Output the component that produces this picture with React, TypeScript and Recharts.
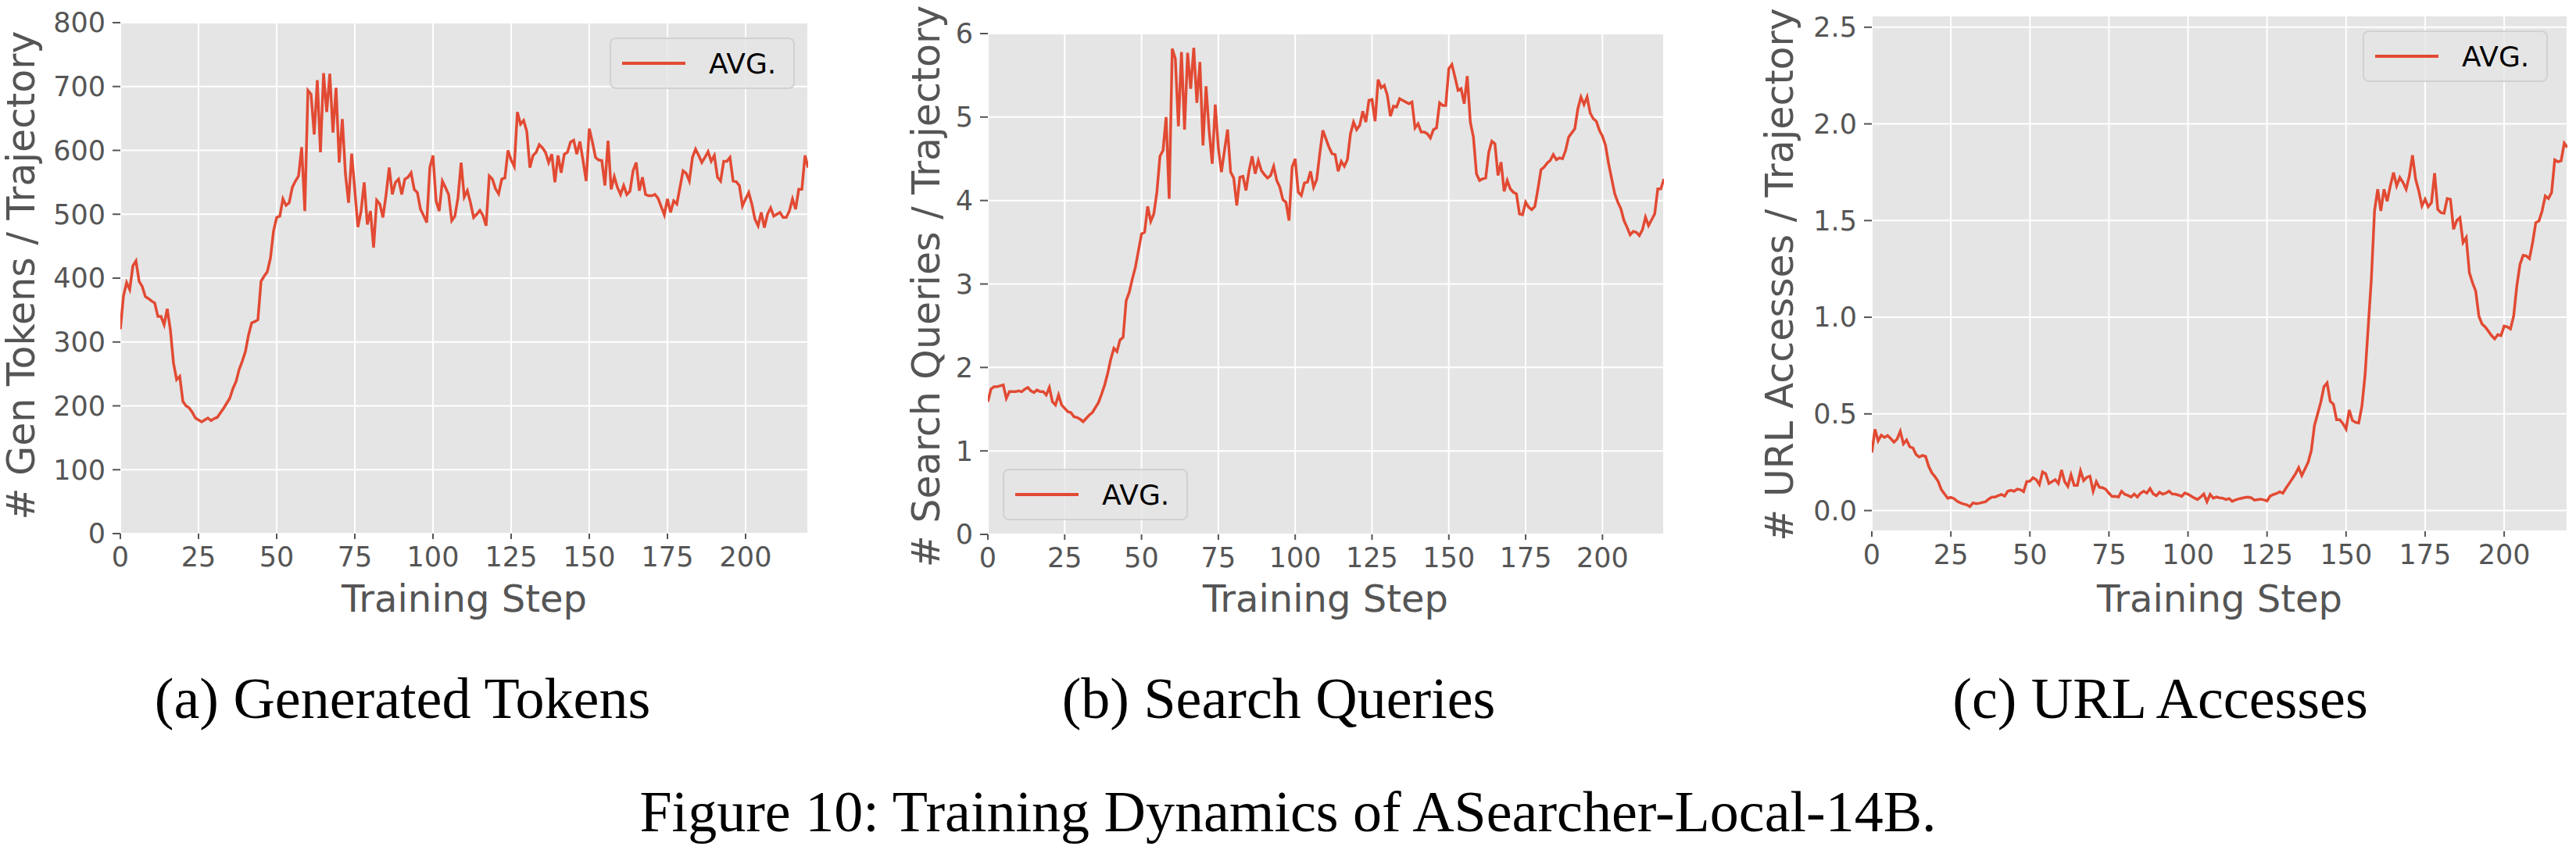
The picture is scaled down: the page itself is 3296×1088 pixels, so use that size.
import React from "react";
import { LineChart, Line, XAxis, YAxis, CartesianGrid, Legend } from "recharts";

// training steps 0..220, one value per step
const genTokens = [
  320, 372, 393, 382, 419, 427, 395, 387, 371, 368,
  364, 361, 340, 340, 327, 352, 319, 267, 241, 246,
  207, 200, 197, 190, 181, 178, 175, 178, 181, 177,
  180, 182, 189, 196, 204, 212, 227, 238, 257, 270,
  285, 311, 330, 332, 335, 395, 403, 410, 431, 474,
  495, 497, 524, 514, 518, 542, 552, 560, 605, 505,
  694, 688, 625, 710, 597, 721, 660, 720, 628, 698,
  581, 649, 563, 518, 595, 537, 480, 505, 550, 484,
  505, 448, 522, 516, 495, 531, 573, 531, 550, 555,
  531, 555, 558, 565, 539, 534, 508, 498, 487, 573,
  592, 521, 505, 552, 542, 531, 490, 497, 526, 581,
  527, 537, 518, 495, 500, 506, 498, 482, 560, 555,
  540, 532, 555, 557, 600, 585, 575, 660, 641, 647,
  630, 573, 592, 597, 609, 604, 597, 581, 594, 550,
  592, 565, 594, 597, 613, 616, 594, 614, 584, 552,
  634, 613, 589, 585, 584, 545, 615, 539, 559, 542,
  531, 545, 531, 536, 568, 581, 537, 558, 531, 529,
  529, 531, 525, 512, 499, 524, 503, 521, 516, 542,
  568, 564, 552, 589, 602, 592, 581, 589, 598, 583,
  592, 558, 552, 583, 583, 589, 552, 551, 545, 513,
  524, 534, 516, 492, 482, 503, 479, 500, 510, 497,
  500, 503, 495, 495, 505, 524, 508, 539, 539, 592,
  573,
];

const searchQueries = [
  1.59, 1.74, 1.77, 1.77, 1.78, 1.79, 1.63, 1.71, 1.71, 1.71,
  1.72, 1.71, 1.74, 1.76, 1.72, 1.7, 1.73, 1.71, 1.71, 1.67,
  1.76, 1.59, 1.55, 1.67, 1.55, 1.51, 1.47, 1.46, 1.41, 1.4,
  1.38, 1.35, 1.39, 1.43, 1.46, 1.52, 1.58, 1.68, 1.79, 1.93,
  2.1, 2.23, 2.19, 2.33, 2.36, 2.8, 2.9, 3.06, 3.2, 3.4,
  3.6, 3.62, 3.93, 3.75, 3.84, 4.1, 4.53, 4.6, 5.0, 4.02,
  5.82, 5.7, 4.89, 5.78, 4.85, 5.77, 5.34, 5.83, 5.17, 5.66,
  4.66, 5.37, 4.84, 4.44, 5.15, 4.63, 4.34, 4.6, 4.85, 4.34,
  4.27, 3.94, 4.28, 4.29, 4.12, 4.36, 4.53, 4.32, 4.48, 4.36,
  4.31, 4.27, 4.3, 4.41, 4.24, 4.16, 4.01, 3.98, 3.76, 4.4,
  4.5, 4.1, 4.06, 4.21, 4.22, 4.35, 4.16, 4.25, 4.56, 4.84,
  4.74, 4.64, 4.56, 4.55, 4.35, 4.47, 4.41, 4.49, 4.8, 4.94,
  4.85, 4.9, 5.07, 4.94, 5.2, 5.21, 4.95, 5.45, 5.35, 5.38,
  5.26, 5.01, 5.13, 5.12, 5.22, 5.2, 5.18, 5.16, 5.18, 4.87,
  4.92, 4.82, 4.82, 4.8, 4.75, 4.85, 4.87, 5.17, 5.14, 5.14,
  5.58, 5.63, 5.48, 5.32, 5.34, 5.16, 5.49, 4.94, 4.76, 4.32,
  4.24, 4.26, 4.27, 4.58, 4.71, 4.68, 4.3, 4.46, 4.11, 4.24,
  4.14, 4.1, 4.08, 3.84, 3.83, 3.98, 3.92, 3.89, 3.93, 4.14,
  4.37, 4.4, 4.45, 4.48, 4.55, 4.49, 4.51, 4.5, 4.6, 4.76,
  4.81, 4.86, 5.1, 5.24, 5.15, 5.24, 5.05, 4.98, 4.95, 4.84,
  4.77, 4.66, 4.44, 4.26, 4.08, 3.98, 3.9, 3.76, 3.68, 3.59,
  3.63, 3.62, 3.58, 3.65, 3.8, 3.7, 3.77, 3.84, 4.14, 4.14,
  4.26,
];

const urlAccesses = [
  0.3, 0.42, 0.36, 0.39, 0.378, 0.388, 0.372, 0.354, 0.37, 0.41,
  0.345, 0.365, 0.33, 0.324, 0.29, 0.277, 0.285, 0.28, 0.228, 0.195,
  0.175, 0.15, 0.108, 0.086, 0.064, 0.068, 0.062, 0.048, 0.04, 0.034,
  0.03, 0.02, 0.04, 0.036, 0.038, 0.042, 0.046, 0.06, 0.07, 0.07,
  0.077, 0.083, 0.075, 0.1, 0.105, 0.1, 0.111, 0.108, 0.098, 0.15,
  0.152, 0.17, 0.16, 0.135, 0.2, 0.19, 0.14, 0.15, 0.16, 0.14,
  0.21, 0.15, 0.125, 0.185, 0.13, 0.13, 0.205, 0.155, 0.172, 0.178,
  0.1, 0.15, 0.12, 0.118, 0.11, 0.09, 0.073, 0.074, 0.07, 0.1,
  0.084, 0.078, 0.07, 0.085, 0.07, 0.09, 0.1, 0.09, 0.114, 0.086,
  0.077, 0.095, 0.085, 0.09, 0.1, 0.086, 0.085, 0.08, 0.073, 0.091,
  0.085, 0.075, 0.065, 0.057, 0.07, 0.086, 0.046, 0.084, 0.064, 0.07,
  0.066, 0.064, 0.057, 0.062, 0.048, 0.055, 0.06, 0.064, 0.068, 0.07,
  0.066, 0.054, 0.057, 0.059, 0.055, 0.05, 0.075, 0.083, 0.088, 0.097,
  0.09, 0.116, 0.14, 0.165, 0.19, 0.222, 0.181, 0.215, 0.25, 0.31,
  0.44, 0.5, 0.56, 0.64, 0.66, 0.565, 0.55, 0.47, 0.47, 0.45,
  0.422, 0.52, 0.466, 0.456, 0.453, 0.54, 0.7, 0.95, 1.2, 1.55,
  1.662, 1.55, 1.662, 1.6, 1.68, 1.748, 1.68, 1.723, 1.697, 1.662,
  1.731, 1.838, 1.714, 1.653, 1.576, 1.61, 1.572, 1.593, 1.745, 1.558,
  1.541, 1.538, 1.614, 1.61, 1.455, 1.5, 1.515, 1.386, 1.412, 1.23,
  1.178, 1.135, 1.006, 0.965, 0.95, 0.928, 0.905, 0.888, 0.91, 0.905,
  0.954, 0.95, 0.94, 1.006, 1.161, 1.273, 1.32, 1.317, 1.303, 1.386,
  1.489, 1.498, 1.55, 1.627, 1.614, 1.645, 1.814, 1.804, 1.809, 1.9,
  1.878,
];

const stepTicks = [0, 25, 50, 75, 100, 125, 150, 175, 200];
const genTicks = [0, 100, 200, 300, 400, 500, 600, 700, 800];
const searchTicks = [0, 1, 2, 3, 4, 5, 6];
const urlTicks = [0, 0.5, 1.0, 1.5, 2.0, 2.5];

const RED = "#E24A33";
const GRAY = "#555555";
const PANEL_BG = "#E5E5E5";
const SANS = '"DejaVu Sans", Verdana, sans-serif';
const SERIF = '"Liberation Serif", "Times New Roman", serif';

const CHART_W = 1100;
const CHART_H = 800;
const Y_AXIS_W = 110;
const X_AXIS_H = 60;

function AvgLegend() {
  return (
    <div
      style={{
        width: 237,
        height: 66,
        boxSizing: "border-box",
        background: "rgba(229,229,229,0.8)",
        border: "2px solid rgba(204,204,204,0.8)",
        borderRadius: 8,
        display: "flex",
        alignItems: "center",
      }}
    >
      <div style={{ marginLeft: 14, width: 81, height: 3.5, background: RED }} />
      <span style={{ marginLeft: 30, fontFamily: SANS, fontSize: 36, color: "#000" }}>AVG.</span>
    </div>
  );
}

type PanelProps = {
  left: number;
  plot: { x0: number; x1: number; y0: number; y1: number };
  values: number[];
  yDomain: [number, number];
  yTicks: number[];
  yFormat?: (v: number) => string;
  legendAt: { x: number; y: number };
};

function Panel({ left, plot, values, yDomain, yTicks, yFormat, legendAt }: PanelProps) {
  const data = values.map((v, i) => ({ step: i, avg: v }));
  const margin = {
    top: plot.y0,
    bottom: CHART_H - plot.y1 - X_AXIS_H,
    left: plot.x0 - left - Y_AXIS_W,
    right: left + CHART_W - plot.x1,
  };
  return (
    <div style={{ position: "absolute", left, top: 0 }}>
      <LineChart width={CHART_W} height={CHART_H} data={data} margin={margin}>
        <CartesianGrid stroke="#ffffff" strokeWidth={2} fill={PANEL_BG} />
        <XAxis
          dataKey="step"
          type="number"
          domain={[0, 220]}
          ticks={stepTicks}
          interval={0}
          allowDataOverflow
          height={X_AXIS_H}
          axisLine={false}
          tickLine={{ stroke: GRAY, strokeWidth: 2 }}
          tickSize={7}
          tickMargin={10}
          tick={{ fill: GRAY, fontSize: 35, fontFamily: SANS }}
        />
        <YAxis
          type="number"
          domain={yDomain}
          ticks={yTicks}
          interval={0}
          allowDataOverflow
          width={Y_AXIS_W}
          axisLine={false}
          tickLine={{ stroke: GRAY, strokeWidth: 2 }}
          tickSize={10}
          tickMargin={9}
          tickFormatter={yFormat}
          tick={{ fill: GRAY, fontSize: 35, fontFamily: SANS }}
        />
        <Legend
          layout="horizontal"
          align="center"
          verticalAlign="middle"
          content={() => <AvgLegend />}
          wrapperStyle={{ left: legendAt.x - left, top: legendAt.y, width: "auto", height: "auto" }}
        />
        <Line
          type="linear"
          dataKey="avg"
          name="AVG."
          stroke={RED}
          strokeWidth={3.5}
          dot={false}
          isAnimationActive={false}
        />
      </LineChart>
    </div>
  );
}

function AxisTitle({ text, cx, baseline }: { text: string; cx: number; baseline: number }) {
  return (
    <div
      style={{
        position: "absolute",
        left: cx - 400,
        top: baseline - 41,
        width: 800,
        textAlign: "center",
        fontFamily: SANS,
        fontSize: 48,
        lineHeight: "48px",
        color: GRAY,
        whiteSpace: "nowrap",
      }}
    >
      {text}
    </div>
  );
}

function YTitle({ text, cx, cy }: { text: string; cx: number; cy: number }) {
  return (
    <div
      style={{
        position: "absolute",
        left: cx - 450,
        top: cy - 24,
        width: 900,
        height: 49,
        textAlign: "center",
        fontFamily: SANS,
        fontSize: 49,
        lineHeight: "49px",
        color: GRAY,
        whiteSpace: "nowrap",
        transform: "rotate(-90deg)",
      }}
    >
      {text}
    </div>
  );
}

function Caption({ text, cx, baseline }: { text: string; cx: number; baseline: number }) {
  return (
    <div
      style={{
        position: "absolute",
        left: cx - 1000,
        top: baseline - 62,
        width: 2000,
        textAlign: "center",
        fontFamily: SERIF,
        fontSize: 74,
        lineHeight: "74px",
        color: "#000",
        whiteSpace: "nowrap",
      }}
    >
      {text}
    </div>
  );
}

export default function App() {
  return (
    <div style={{ position: "absolute", left: 0, top: 0, width: 3296, height: 1088, background: "#fff", overflow: "hidden" }}>
      <Panel
        left={0}
        plot={{ x0: 154, x1: 1034, y0: 29, y1: 683 }}
        values={genTokens}
        yDomain={[0, 800]}
        yTicks={genTicks}
        legendAt={{ x: 780, y: 48 }}
      />
      <Panel
        left={1100}
        plot={{ x0: 1264, x1: 2129, y0: 43, y1: 684 }}
        values={searchQueries}
        yDomain={[0, 6]}
        yTicks={searchTicks}
        legendAt={{ x: 1283, y: 600 }}
      />
      <Panel
        left={2196}
        plot={{ x0: 2395, x1: 3285, y0: 20, y1: 680 }}
        values={urlAccesses}
        yDomain={[-0.107, 2.56]}
        yTicks={urlTicks}
        yFormat={(v) => v.toFixed(1)}
        legendAt={{ x: 3023, y: 39 }}
      />

      <YTitle text="# Gen Tokens / Trajectory" cx={27} cy={352} />
      <YTitle text="# Search Queries / Trajectory" cx={1185} cy={366} />
      <YTitle text="# URL Accesses / Trajectory" cx={2277} cy={351} />

      <AxisTitle text="Training Step" cx={594} baseline={783} />
      <AxisTitle text="Training Step" cx={1696} baseline={783} />
      <AxisTitle text="Training Step" cx={2840} baseline={783} />

      <Caption text="(a) Generated Tokens" cx={515} baseline={919} />
      <Caption text="(b) Search Queries" cx={1636} baseline={919} />
      <Caption text="(c) URL Accesses" cx={2764} baseline={919} />
      <Caption text="Figure 10: Training Dynamics of ASearcher-Local-14B." cx={1648} baseline={1064} />
    </div>
  );
}
